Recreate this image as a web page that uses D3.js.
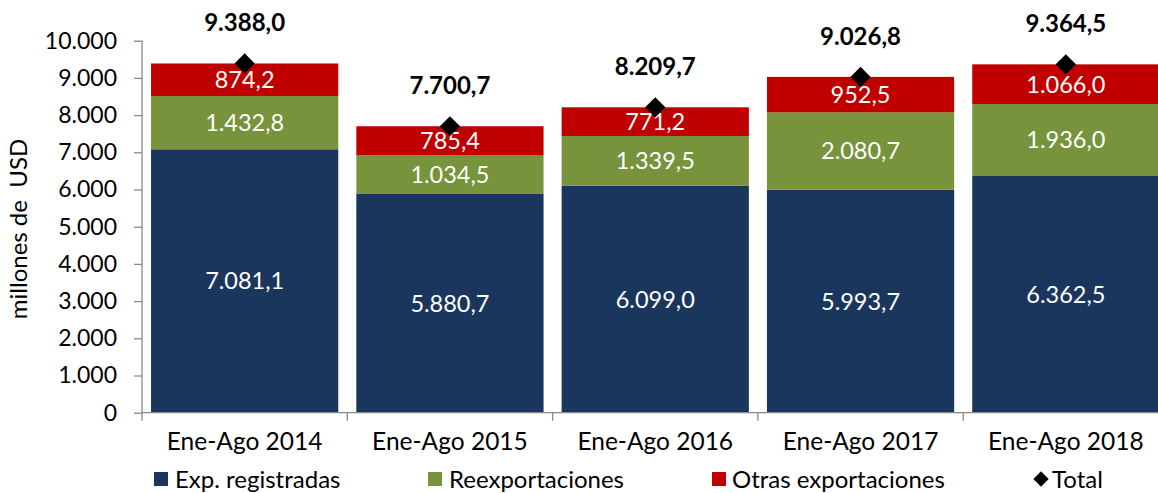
<!DOCTYPE html>
<html><head><meta charset="utf-8">
<script src="https://cdn.jsdelivr.net/npm/d3@7"></script>
<style>body{margin:0;background:#fff}svg{display:block;font-family:Lato,"Open Sans",sans-serif}</style>
</head><body><svg id="c" width="1158" height="493"></svg>
<script>
const categories = ["Ene-Ago 2014","Ene-Ago 2015","Ene-Ago 2016","Ene-Ago 2017","Ene-Ago 2018"];
const expRegistradas = [7081.1, 5880.7, 6099.0, 5993.7, 6362.5];
const reexportaciones = [1432.8, 1034.5, 1339.5, 2080.7, 1936.0];
const otrasExport = [874.2, 785.4, 771.2, 952.5, 1066.0];
const totals = [9388.0, 7700.7, 8209.7, 9026.8, 9364.5];
const yTicks = [0,1000,2000,3000,4000,5000,6000,7000,8000,9000,10000];
const seriesNames = ["Exp. registradas","Reexportaciones","Otras exportaciones"];
const colors = ["#1B365D","#77933C","#C00000"];

const loc = d3.formatLocale({decimal:",", thousands:".", grouping:[3], currency:["",""]});
const fTick = loc.format(",.0f"), fVal = loc.format(",.1f");

const svg = d3.select("#c");
const x0 = 142, yBase = 412.7, yTop = 40.7;
const x = d3.scaleBand().domain(categories).range([x0, x0 + 5*205.3]).paddingInner(0.088).paddingOuter(0.044);
const y = d3.scaleLinear().domain([0,10000]).range([yBase, yTop]);

const data = categories.map((c,i)=>({cat:c, s:[expRegistradas[i], reexportaciones[i], otrasExport[i]], total:totals[i]}));

// bars
data.forEach(d=>{
  let acc = 0;
  d.s.forEach((v,k)=>{
    const y1 = y(acc+v), y0 = y(acc);
    svg.append("rect").attr("x", x(d.cat)).attr("width", x.bandwidth())
      .attr("y", y1).attr("height", y0-y1).attr("fill", colors[k]);
    svg.append("text").attr("x", x(d.cat)+x.bandwidth()/2).attr("y", (y0+y1)/2)
      .attr("dy","0.36em").attr("text-anchor","middle").attr("fill","#fff")
      .attr("font-size",23.5).text(fVal(v));
    acc += v;
  });
});

// axes
const ya = svg.append("g").attr("transform",`translate(${x0},0)`)
  .call(d3.axisLeft(y).tickValues(yTicks).tickFormat(fTick).tickSize(8).tickPadding(17));
ya.selectAll("text").attr("font-size",23).attr("fill","#000").attr("font-family","Lato,sans-serif");
ya.selectAll("line,path").attr("stroke","#888").attr("stroke-width",1.3);
ya.select("path").attr("d",`M0,${yBase}V${yTop}`);

const xa = svg.append("g").attr("transform",`translate(0,${yBase})`);
xa.append("line").attr("x1",x0).attr("x2",1158).attr("stroke","#888").attr("stroke-width",1.3);
d3.range(6).forEach(i=>{
  const xx = x0 + i*x.step();
  xa.append("line").attr("x1",xx).attr("x2",xx).attr("y1",0).attr("y2",8).attr("stroke","#888").attr("stroke-width",1.3);
});
categories.forEach(c=>{
  xa.append("text").attr("x", x(c)+x.bandwidth()/2).attr("y", 28).attr("dy","0.36em")
    .attr("text-anchor","middle").attr("font-size",24.5).text(c);
});

// totals
data.forEach(d=>{
  const cx = x(d.cat)+x.bandwidth()/2, cy = y(d.total);
  svg.append("path").attr("d", d3.symbol(d3.symbolDiamond2 || d3.symbolDiamond, 260)())
    .attr("transform",`translate(${cx},${cy})`).attr("fill","#000");
  svg.append("text").attr("x",cx).attr("y",cy-41).attr("dy","0.36em").attr("text-anchor","middle")
    .attr("font-size",24).attr("font-weight","bold").text(fVal(d.total));
});

// y title
svg.append("text").attr("transform","translate(27,229) rotate(-90)").attr("text-anchor","middle")
  .attr("font-size",24).style("white-space","pre").text("millones de  USD");

// legend
const legItems = [
  {name:seriesNames[0], color:colors[0], sx:154, tx:175},
  {name:seriesNames[1], color:colors[1], sx:428, tx:449},
  {name:seriesNames[2], color:colors[2], sx:712, tx:732},
];
legItems.forEach(l=>{
  svg.append("rect").attr("x",l.sx).attr("y",472).attr("width",14).attr("height",14).attr("fill",l.color);
  svg.append("text").attr("x",l.tx).attr("y",479).attr("dy","0.36em").attr("font-size",24).text(l.name);
});
svg.append("path").attr("d", d3.symbol(d3.symbolDiamond2 || d3.symbolDiamond, 150)())
  .attr("transform","translate(1041,479)").attr("fill","#000");
svg.append("text").attr("x",1052).attr("y",479).attr("dy","0.36em").attr("font-size",24).text("Total");
</script></body></html>
